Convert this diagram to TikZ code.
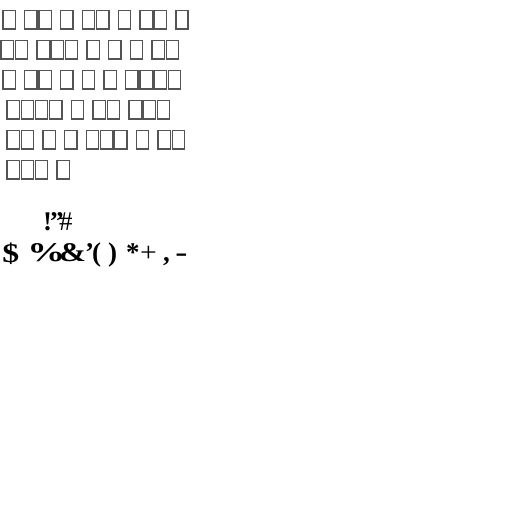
\documentclass[tikz,border=0pt]{standalone}
\usepackage{fontspec}
\newfontfamily\symfont{Liberation Serif}
\begin{document}
\begin{tikzpicture}[x=1pt,y=-1pt,
  tofu/.style={draw=black!67,line width=1.4pt},
  sym/.style={inner sep=0pt,anchor=base west,font=\symfont\bfseries\fontsize{27}{30}\selectfont},
  symthin/.style={inner sep=0pt,anchor=base west,font=\symfont\fontsize{27}{30}\selectfont}]
\useasboundingbox (0,0) rectangle (530,530);
% row 1
\foreach \x in {3,24.7,38.9,60.6,82.3,96.5,118.2,139.9,154.1,175.8}
  \draw[tofu] (\x,10.5) rectangle (\x+12.3,29);
% row 2
\foreach \x in {1,15.2,36.9,51.1,65.3,87,108.7,130.4,152.1,166.3}
  \draw[tofu] (\x,40.5) rectangle (\x+12.3,59);
% row 3
\foreach \x in {3,24.7,38.9,60.6,82.3,104,125.7,139.9,154.1,168.3}
  \draw[tofu] (\x,70.5) rectangle (\x+12.3,89);
% row 4
\foreach \x in {7,21.2,35.4,49.6,71.3,93,107.2,128.9,143.1,157.3}
  \draw[tofu] (\x,100.5) rectangle (\x+12.3,119);
% row 5
\foreach \x in {7,21.2,42.9,64.6,86.3,100.5,114.7,136.4,158.1,172.3}
  \draw[tofu] (\x,130.5) rectangle (\x+12.3,149);
% row 6
\foreach \x in {7,21.2,35.4,57.1}
  \draw[tofu] (\x,160.5) rectangle (\x+12.3,179);
% symbol line 1
\node[sym] (g1) at (43,230) {!};
\node[sym] (g2) at (50,230) {”};
\node[symthin] (g3) at (59,230) {\#};
% symbol line 2
\node[sym,xscale=1.25] (g4) at (2,262) {\$};
\node[sym,xscale=1.4] (g5) at (27,261) {\%};
\node[sym,xscale=1.2] (g6) at (59,261) {\&};
\node[sym] (g7) at (85,261) {’};
\node[sym] (g8) at (92,261) {(};
\node[sym] (g9) at (108,261) {)};
\node[sym] (g10) at (126,261) {*};
\node[symthin,xscale=1.1] (g11) at (140,261) {+};
\node[sym] (g12) at (163,261) {,};
\node[sym,xscale=1.35] (g13) at (175,261) {-};
\end{tikzpicture}
\end{document}
